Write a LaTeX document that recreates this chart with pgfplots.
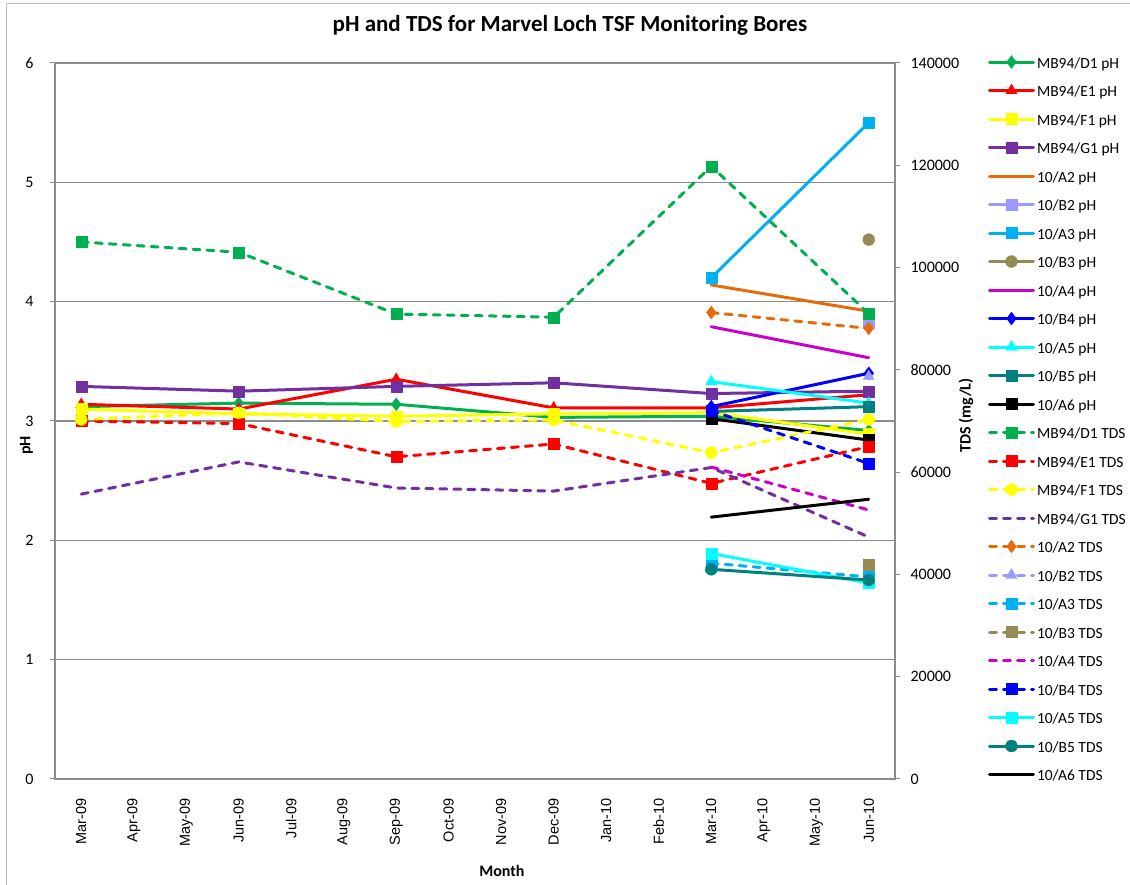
\documentclass[border=0pt]{standalone}
\usepackage{pgfplots}
\pgfplotsset{compat=1.18}
\usepackage{fontspec}
\setmainfont{Carlito}
\newfontfamily\arialf{Liberation Sans}
\definecolor{cD1}{HTML}{00B050}
\definecolor{cE1}{HTML}{FF0000}
\definecolor{cF1}{HTML}{FFFF00}
\definecolor{cG1}{HTML}{7030A0}
\definecolor{cA2}{HTML}{E46C0A}
\definecolor{cB2}{HTML}{9999FF}
\definecolor{cA3}{HTML}{00B0F0}
\definecolor{cB3}{HTML}{948A54}
\definecolor{cA4}{HTML}{CC00CC}
\definecolor{cB4}{HTML}{0000FF}
\definecolor{cA5}{HTML}{00FFFF}
\definecolor{cB5}{HTML}{008080}
\definecolor{cA6}{HTML}{000000}
\definecolor{gridgray}{HTML}{8C8C8C}
\definecolor{framegray}{HTML}{BFBFBF}
\newcommand\lgs{\rule[-3.5pt]{0pt}{17.5pt}}
\pgfplotsset{
  /pgf/number format/assume math mode=true,
  ln/.style={line width=3pt, line cap=round, line join=round, solid},
  ds/.style={line width=3pt, line cap=round, line join=round, dash pattern=on 7pt off 7pt},
  msq/.style={mark=square*, mark size=5.5pt, mark options={solid, line width=0.3pt}},
  mci/.style={mark=*, mark size=6pt, mark options={solid, line width=0.3pt}},
  mdi/.style={mark=diamond*, mark size=6.5pt, mark options={solid, line width=0.3pt}},
  mtr/.style={mark=triangle*, mark size=6.5pt, mark options={solid, line width=0.3pt}},
  pD1p/.style={ln, color=cD1, mdi},
  pE1p/.style={ln, color=cE1, mtr},
  pF1p/.style={ln, color=cF1, msq},
  pG1p/.style={ln, color=cG1, msq},
  pA2p/.style={ln, color=cA2, no marks},
  pB2p/.style={ln, color=cB2, msq},
  pA3p/.style={ln, color=cA3, msq},
  pB3p/.style={ln, color=cB3, mci},
  pA4p/.style={ln, color=cA4, no marks},
  pB4p/.style={ln, color=cB4, mdi},
  pA5p/.style={ln, color=cA5, mtr},
  pB5p/.style={ln, color=cB5, msq},
  pA6p/.style={ln, color=cA6, msq},
  pD1t/.style={ds, color=cD1, msq},
  pE1t/.style={ds, color=cE1, msq},
  pF1t/.style={ds, color=cF1, mci},
  pG1t/.style={ds, color=cG1, no marks},
  pA2t/.style={ds, color=cA2, mdi},
  pB2t/.style={ds, color=cB2, mtr},
  pA3t/.style={ds, color=cA3, msq},
  pB3t/.style={ds, color=cB3, msq},
  pA4t/.style={ds, color=cA4, no marks},
  pB4t/.style={ds, color=cB4, msq},
  pA5t/.style={ln, color=cA5, msq},
  pB5t/.style={ln, color=cB5, mci},
  pA6t/.style={ln, color=cA6, no marks},
  common/.style={
    at={(55pt,106pt)}, anchor=south west,
    scale only axis, width=840pt, height=716pt,
    xmin=-0.5, xmax=15.5,
    tick label style={font=\fontsize{16}{18}\selectfont},
    label style={font=\bfseries\fontsize{16}{18}\selectfont},
    tick align=outside, major tick length=5pt,
    tick style={gridgray, line width=1pt},
  },
}
\begin{document}
\begin{tikzpicture}
\path[use as bounding box] (0pt,0pt) rectangle (1130pt,885pt);
\draw[framegray, line width=1pt] (6pt,-5pt) -- (6pt,881pt) -- (1140pt,881pt);
\begin{axis}[common,
  ymin=0, ymax=6, ytick={0,...,6},
  xtick={0,...,15},
  xticklabels={Mar-09,Apr-09,May-09,Jun-09,Jul-09,Aug-09,Sep-09,Oct-09,Nov-09,Dec-09,Jan-10,Feb-10,Mar-10,Apr-10,May-10,Jun-10},
  xticklabel style={rotate=90, anchor=east, xshift=-11pt, font=\arialf\fontsize{14.5}{16}\selectfont},
  xtick style={draw=none},
  ytick pos=left, xtick pos=bottom,
  yticklabel style={xshift=-13pt},
  ymajorgrids, grid style={gridgray, line width=1.2pt},
  axis line style={gridgray, line width=1.2pt},
  ylabel={pH}, ylabel style={at={(axis description cs:-0.034,0.466)}, anchor=center},
  xlabel={Month}, xlabel style={at={(axis description cs:0.532,-0.1285)}, anchor=center},
  title={pH and TDS for Marvel Loch TSF Monitoring Bores},
  title style={at={(axis description cs:0.613,1.0447)}, anchor=center, font=\bfseries\fontsize{23}{25}\selectfont},
]
\addplot[pD1p] coordinates {(0,3.12)(3,3.15)(6,3.14)(9,3.03)(12,3.04)(15,2.92)};
\addplot[pE1p] coordinates {(0,3.14)(3,3.10)(6,3.35)(9,3.11)(12,3.11)(15,3.22)};
\addplot[pF1p] coordinates {(0,3.10)(3,3.06)(6,3.04)(9,3.06)(12,3.07)(15,2.89)};
\addplot[pG1p] coordinates {(0,3.29)(3,3.25)(6,3.29)(9,3.32)(12,3.23)(15,3.25)};
\addplot[pA2p] coordinates {(12,4.14)(15,3.92)};
\addplot[pB2p] coordinates {(15,3.82)};
\addplot[pA3p] coordinates {(12,4.20)(15,5.50)};
\addplot[pB3p] coordinates {(15,4.52)};
\addplot[pA4p] coordinates {(12,3.79)(15,3.53)};
\addplot[pB4p] coordinates {(12,3.12)(15,3.40)};
\addplot[pA5p] coordinates {(12,3.33)(15,3.15)};
\addplot[pB5p] coordinates {(12,3.08)(15,3.12)};
\addplot[pA6p] coordinates {(12,3.02)(15,2.84)};
\end{axis}
\begin{axis}[common,
  ymin=0, ymax=140000, ytick={0,20000,...,140000},
  scaled y ticks=false,
  yticklabel style={/pgf/number format/fixed, /pgf/number format/1000 sep={}, xshift=7pt},
  axis x line=none, axis y line*=right,
  axis line style={gridgray, line width=1.2pt},
  ylabel={TDS (mg/L)}, ylabel style={at={(axis description cs:1.0845,0.508)}, anchor=center},
  legend image code/.code={\draw[mark repeat=2, mark phase=2, #1] plot coordinates {(0pt,0pt) (22pt,0pt) (44pt,0pt)};},
  legend cell align=left,
  legend style={at={(axis description cs:1.1107,1.0122)}, anchor=north west, draw=none, fill=none,
    inner sep=0pt, outer sep=0pt, row sep=13pt, column sep=2pt,
    nodes={inner sep=0pt}, font=\fontsize{15.5}{17}\selectfont},
]
\addlegendimage{pD1p}\addlegendentry{\lgs MB94/D1 pH}
\addlegendimage{pE1p}\addlegendentry{\lgs MB94/E1 pH}
\addlegendimage{pF1p}\addlegendentry{\lgs MB94/F1 pH}
\addlegendimage{pG1p}\addlegendentry{\lgs MB94/G1 pH}
\addlegendimage{pA2p}\addlegendentry{\lgs 10/A2 pH}
\addlegendimage{pB2p}\addlegendentry{\lgs 10/B2 pH}
\addlegendimage{pA3p}\addlegendentry{\lgs 10/A3 pH}
\addlegendimage{pB3p}\addlegendentry{\lgs 10/B3 pH}
\addlegendimage{pA4p}\addlegendentry{\lgs 10/A4 pH}
\addlegendimage{pB4p}\addlegendentry{\lgs 10/B4 pH}
\addlegendimage{pA5p}\addlegendentry{\lgs 10/A5 pH}
\addlegendimage{pB5p}\addlegendentry{\lgs 10/B5 pH}
\addlegendimage{pA6p}\addlegendentry{\lgs 10/A6 pH}
\addplot[pD1t] coordinates {(0,105000)(3,103000)(6,90900)(9,90300)(12,119800)(15,91000)};
\addlegendentry{\lgs MB94/D1 TDS}
\addplot[pE1t] coordinates {(0,70000)(3,69500)(6,63000)(9,65500)(12,57800)(15,65000)};
\addlegendentry{\lgs MB94/E1 TDS}
\addplot[pF1t] coordinates {(0,70300)(3,71600)(6,69900)(9,70200)(12,63800)(15,70300)};
\addlegendentry{\lgs MB94/F1 TDS}
\addplot[pG1t] coordinates {(0,55700)(3,62000)(6,56900)(9,56300)(12,60900)(15,47300)};
\addlegendentry{\lgs MB94/G1 TDS}
\addplot[pA2t] coordinates {(12,91200)(15,88100)};
\addlegendentry{\lgs 10/A2 TDS}
\addplot[pB2t] coordinates {(15,78700)};
\addlegendentry{\lgs 10/B2 TDS}
\addplot[pA3t] coordinates {(12,42200)(15,39500)};
\addlegendentry{\lgs 10/A3 TDS}
\addplot[pB3t] coordinates {(15,42000)};
\addlegendentry{\lgs 10/B3 TDS}
\addplot[pA4t] coordinates {(12,61000)(15,52600)};
\addlegendentry{\lgs 10/A4 TDS}
\addplot[pB4t] coordinates {(12,72000)(15,61700)};
\addlegendentry{\lgs 10/B4 TDS}
\addplot[pA5t] coordinates {(12,44100)(15,38300)};
\addlegendentry{\lgs 10/A5 TDS}
\addplot[pB5t] coordinates {(12,41000)(15,38900)};
\addlegendentry{\lgs 10/B5 TDS}
\addplot[pA6t] coordinates {(12,51200)(15,54700)};
\addlegendentry{\lgs 10/A6 TDS}
\end{axis}
\end{tikzpicture}
\end{document}
